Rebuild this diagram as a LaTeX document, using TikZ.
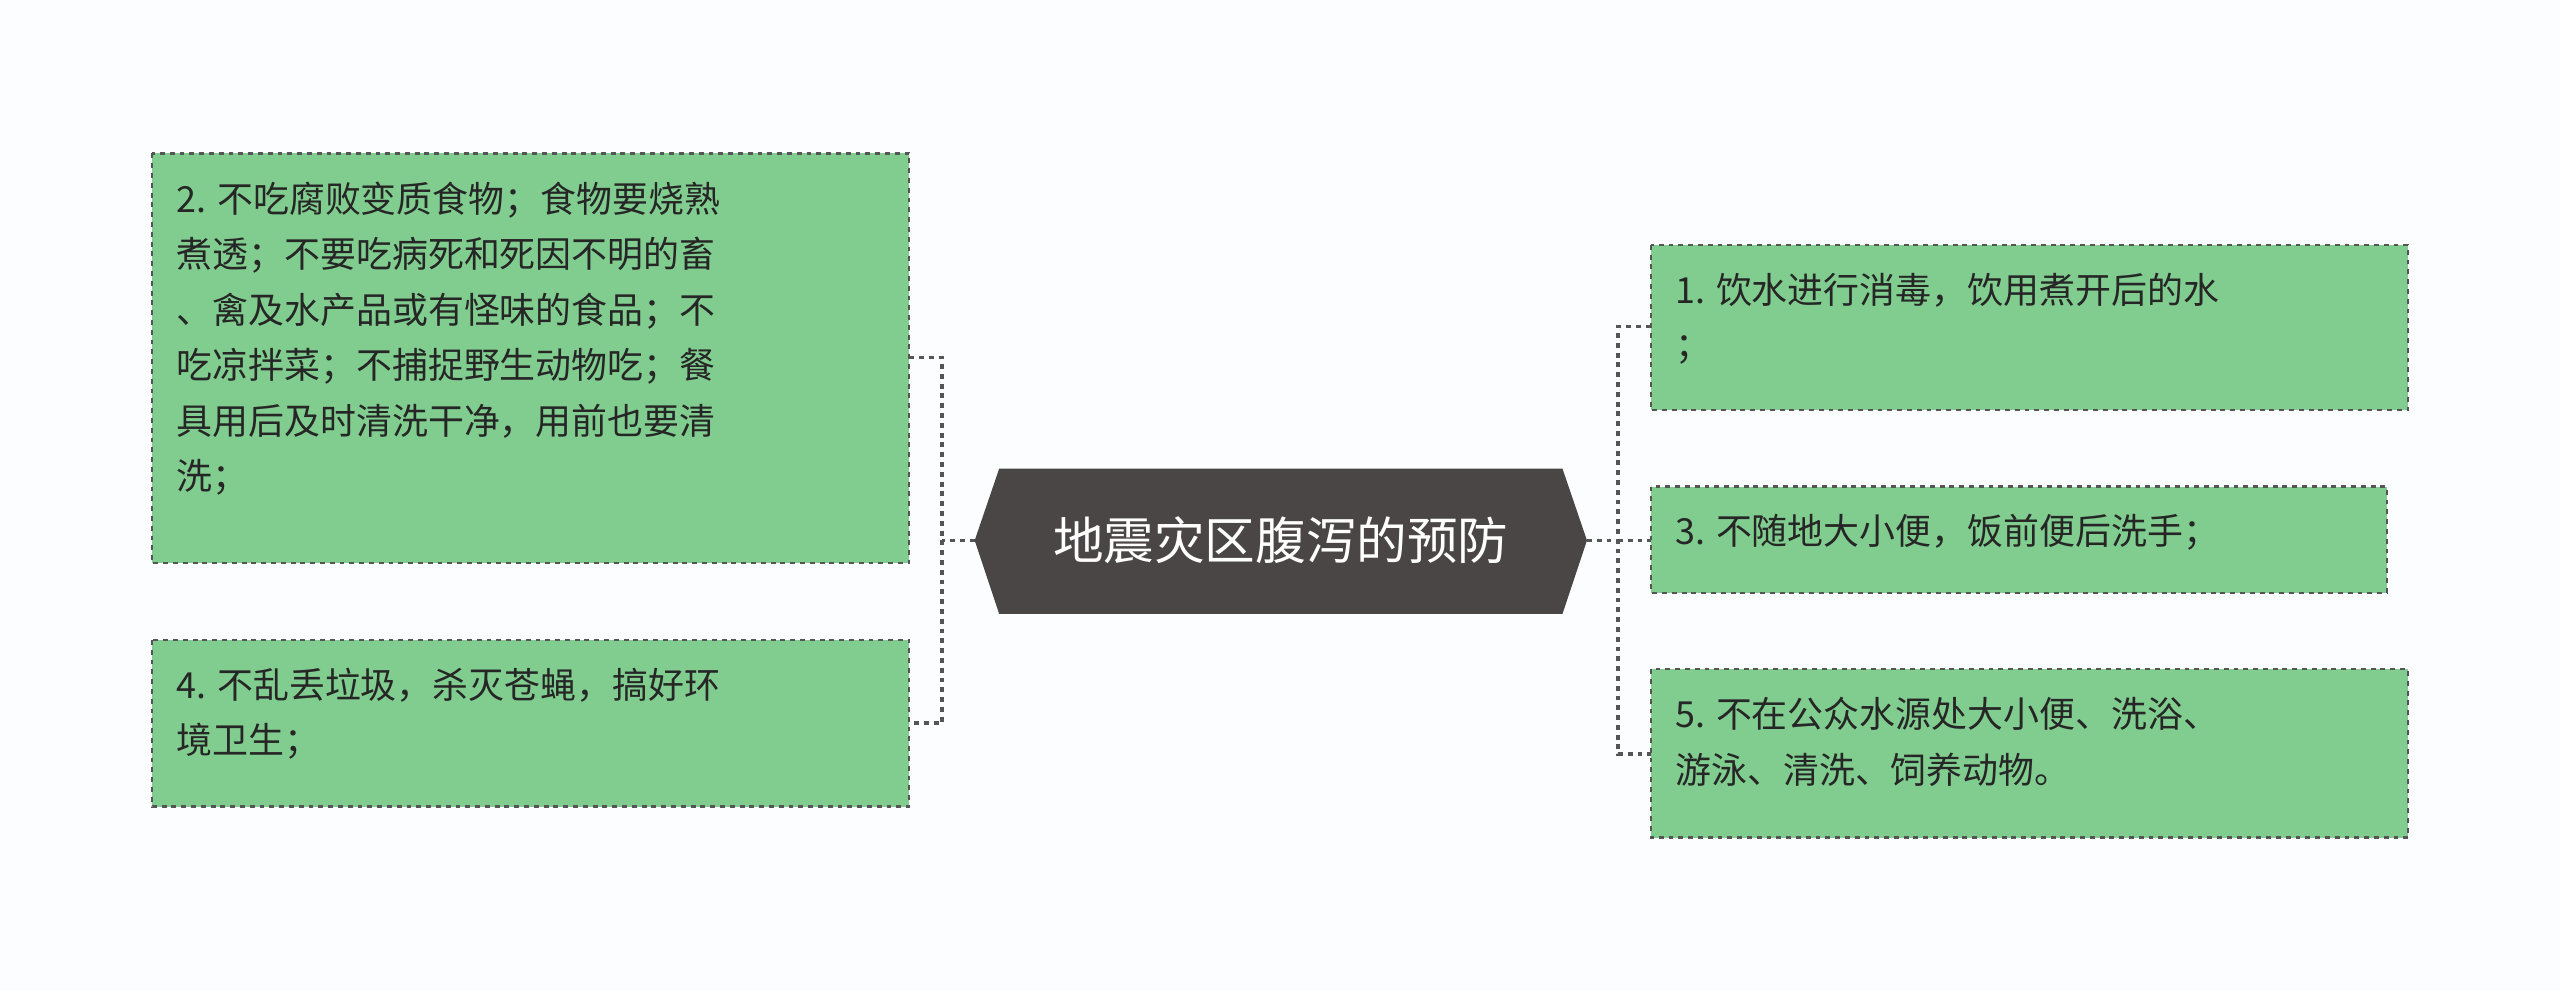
\documentclass[tikz,border=0pt]{standalone}
\usepackage{fontspec}
\setmainfont{Noto Sans CJK SC}
\definecolor{bg}{HTML}{FBFDFE}
\definecolor{leaf}{HTML}{80CD8F}
\definecolor{edge}{HTML}{555555}
\definecolor{hub}{HTML}{4A4646}
\begin{document}
\begin{tikzpicture}[x=1pt,y=-1pt,
  leafbox/.style={draw=edge,dashed,line width=1.3pt,fill=leaf},
  conn/.style={draw=edge,dashed,line width=2.2pt},
  txt/.style={anchor=north west,align=left,inner sep=0pt,font=\fontsize{22}{34}\selectfont,text=black!85}]
\useasboundingbox[fill=bg] (0,0) rectangle (1568,607);
% connectors
\coordinate (lj) at (577,331);
\coordinate (rj) at (991,331);
\draw[conn] (597,331) -- (lj);
\draw[conn] (557,219) -- (577,219) -- (577,443) -- (557,443);
\draw[conn] (972,331) -- (rj);
\draw[conn] (1011,200) -- (991,200) -- (991,462) -- (1011,462);
\draw[conn] (991,331) -- (1011,331);
% hub
\fill[hub] (597,331) -- (612,287) -- (957,287) -- (972,331) -- (957,376) -- (612,376) -- cycle;
\node[text=white,font=\fontsize{31}{36}\selectfont] (hub) at (784.5,331) {地震灾区腹泻的预防};
% left boxes
\draw[leafbox] (93,94) rectangle (557,345);
\node[txt] (b2) at (108,111) {2. 不吃腐败变质食物；食物要烧熟\\煮透；不要吃病死和死因不明的畜\\、禽及水产品或有怪味的食品；不\\吃凉拌菜；不捕捉野生动物吃；餐\\具用后及时清洗干净，用前也要清\\洗；};
\draw[leafbox] (93,392) rectangle (557,494);
\node[txt] (b4) at (108,409) {4. 不乱丢垃圾，杀灭苍蝇，搞好环\\境卫生；};
% right boxes
\draw[leafbox] (1011,150) rectangle (1475,251);
\node[txt] (b1) at (1026,167) {1. 饮水进行消毒，饮用煮开后的水\\；};
\draw[leafbox] (1011,298) rectangle (1462,363);
\node[txt] (b3) at (1026,315) {3. 不随地大小便，饭前便后洗手；};
\draw[leafbox] (1011,410) rectangle (1475,513);
\node[txt] (b5) at (1026,427) {5. 不在公众水源处大小便、洗浴、\\游泳、清洗、饲养动物。};
\end{tikzpicture}
\end{document}
